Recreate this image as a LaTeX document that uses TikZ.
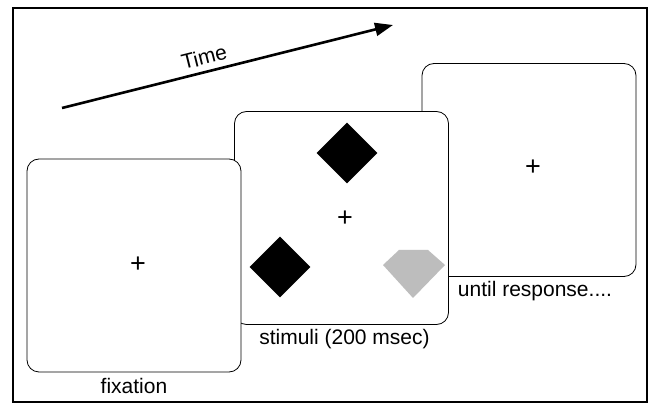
\documentclass[tikz,border=0pt]{standalone}
\usepackage{fontspec}
\setmainfont{Liberation Sans}
\usetikzlibrary{positioning,shapes.geometric,arrows.meta}
\definecolor{lightgem}{HTML}{BDBDBD}
\begin{document}
\begin{tikzpicture}[x=1pt,y=-1pt,
  screen/.style={draw,rounded corners=12pt,fill=white,line width=0.8pt,
    minimum width=214pt,minimum height=213pt,inner sep=0pt},
  caption/.style={font=\fontsize{21}{25}\selectfont,inner sep=2pt,
    text height=15.5pt,text depth=4pt},
  cross/.style={font=\fontsize{27}{30}\selectfont,inner sep=0pt},
  blackdiamond/.style={diamond,fill=black,minimum size=61pt,inner sep=0pt}]
\useasboundingbox (0,0) rectangle (654,411);
\draw[line width=2pt] (13,8) rectangle (647,402);
% time arrow
\coordinate (tstart) at (62,108);
\coordinate (tend) at (393,25);
\draw[line width=2.6pt,-{Triangle[length=18pt,width=13pt]}] (tstart) --
  node[pos=0.44,sloped,above=0pt,caption] (time) {Time} (tend);
% last screen
\node[screen] (until) at (529,170) {};
\node[cross] (untilcross) at (533,168) {+};
\node[caption,below=2pt of until,xshift=6pt] (untillab) {until response....};
% stimulus screen
\node[screen] (stim) at (341.5,218) {};
\node[cross] (stimcross) at (345,219) {+};
\node[blackdiamond] (upper) at (347,153) {};
\node[blackdiamond] (lower) at (280,267) {};
\fill[lightgem] (399,250) -- (428,250) -- (445,265) -- (413,298) -- (383,265) -- cycle;
\node[caption,below=2pt of stim,xshift=3pt] (stimlab) {stimuli (200 msec)};
% fixation screen
\node[screen] (fix) at (134,265.5) {};
\node[cross] (fixcross) at (138,265) {+};
\node[caption,below=3pt of fix] (fixlab) {fixation};
\end{tikzpicture}
\end{document}
